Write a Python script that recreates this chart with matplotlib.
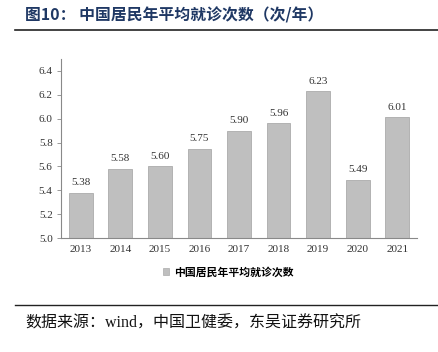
import matplotlib
matplotlib.use("Agg")
import matplotlib.pyplot as plt
from matplotlib.lines import Line2D
from matplotlib.patches import Patch

years = ["2013", "2014", "2015", "2016", "2017", "2018", "2019", "2020", "2021"]
visits = [5.38, 5.58, 5.60, 5.75, 5.90, 5.96, 6.23, 5.49, 6.01]
yticks = [5.0, 5.2, 5.4, 5.6, 5.8, 6.0, 6.2, 6.4]
title = "图10： 中国居民年平均就诊次数（次/年）"
series_name = "中国居民年平均就诊次数"
source = "数据来源：wind，中国卫健委，东吴证券研究所"

W, H = 438, 352
fig = plt.figure(figsize=(W / 100, H / 100), dpi=100)

serif = ["Liberation Serif", "Noto Sans CJK SC"]
cjk = ["Noto Sans CJK SC", "DejaVu Sans"]

# axes: left 61, right 417, top 59 (6.5), bottom 238 (5.0)
ax = fig.add_axes([61 / W, 1 - 238 / H, (417 - 61) / W, (238 - 59) / H])
x = list(range(len(years)))
ax.bar(x, visits, width=0.6, color="#BFBFBF", edgecolor="#ABABAB", linewidth=0.6, zorder=2)
ax.set_xlim(-0.5, len(years) - 0.5)
ax.set_ylim(5.0, 6.5)
ax.set_yticks(yticks)
ax.set_yticklabels([f"{v:.1f}" for v in yticks], fontfamily=serif, fontsize=8, color="#333333")
ax.set_xticks(x)
ax.set_xticklabels(years, fontfamily=serif, fontsize=8, color="#333333")
ax.tick_params(axis="x", length=0, pad=5)
ax.tick_params(axis="y", length=3, width=0.6, color="#898989", pad=3)
for s in ["top", "right"]:
    ax.spines[s].set_visible(False)
for s in ["left", "bottom"]:
    ax.spines[s].set_color("#898989")
    ax.spines[s].set_linewidth(0.8)

for xi, v in zip(x, visits):
    ax.annotate(f"{v:.2f}", (xi, v), xytext=(0, 4), textcoords="offset points",
                ha="center", va="bottom", fontfamily=serif, fontsize=8, color="#333333")

# legend
handle = Patch(facecolor="#BFBFBF", edgecolor="#ABABAB", linewidth=0.5)
fig.legend([handle], [series_name], loc="center", bbox_to_anchor=(228 / W, 1 - 272 / H),
           frameon=False, prop={"family": cjk, "size": 7.8, "weight": "bold"},
           handlelength=0.6, handleheight=0.6, handletextpad=0.4)

# title
fig.text(25 / W, 1 - 15 / H, title, fontfamily=cjk, fontsize=11.4, fontweight="bold",
         color="#1F3864", ha="left", va="center")
fig.add_artist(Line2D([15 / W, 1.0], [1 - 30 / H, 1 - 30 / H], color="#222222", linewidth=1.2))
fig.add_artist(Line2D([15 / W, 1.0], [1 - 305 / H, 1 - 305 / H], color="#222222", linewidth=1.0))
fig.text(25 / W, 1 - 324 / H, source, fontfamily=["Liberation Serif", "Noto Sans CJK SC"],
         fontsize=11.5, color="#111111", ha="left", va="center")

fig.savefig("out.png", dpi=100)
